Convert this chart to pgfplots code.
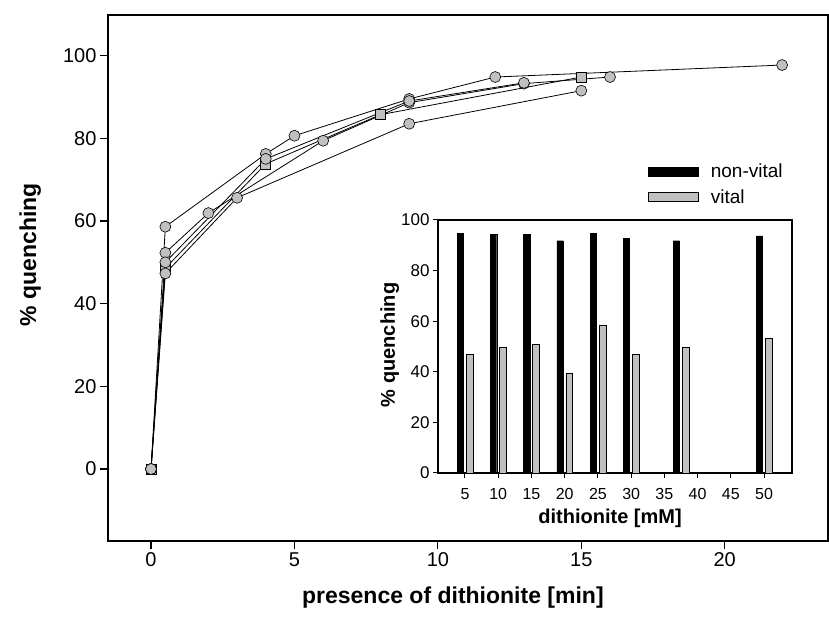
\documentclass[border=0pt]{standalone}
\usepackage{fontspec}
\setmainfont{Liberation Sans}
\usepackage{pgfplots}
\pgfplotsset{compat=1.18}
\definecolor{mgray}{RGB}{192,192,192}
\pgfplotsset{rectlegend/.style={legend image code/.code={\draw[##1] (0pt,-4.5pt) rectangle (50pt,4.5pt);}}}
\begin{document}
\begin{tikzpicture}[x=1pt,y=1pt]
\useasboundingbox (0,0) rectangle (829,626);
\begin{axis}[
  at={(108pt,85pt)}, anchor=south west, scale only axis,
  width=720pt, height=526pt,
  xmin=-1.5, xmax=23.6, ymin=-17.4, ymax=109.8,
  xtick={0,5,10,15,20}, ytick={0,20,40,60,80,100},
  tick align=outside, xtick pos=bottom, ytick pos=left,
  major tick length=8pt,
  axis line style={line width=1.3pt},
  tick style={line width=1.2pt, black},
  /pgf/number format/assume math mode=true,
  ticklabel style={font=\fontsize{20}{24}\selectfont},
  xlabel={presence of dithionite [min]}, ylabel={\% quenching},
  label style={font=\bfseries\fontsize{23}{27}\selectfont},
  xlabel style={at={(axis description cs:0.479,-0.108)}, anchor=center},
  ylabel style={at={(axis description cs:-0.108,0.544)}, anchor=center},
  every axis plot/.append style={line width=0.8pt, black, mark size=5.5pt,
    mark options={fill=mgray, draw=black, line width=0.6pt, solid}},
]
\addplot[mark=square*, mark size=5pt] coordinates {(0,0) (0.5,48.6) (4,73.8) (8,85.7) (15,94.8)};
\addplot[mark=*] coordinates {(0,0) (0.5,58.6) (4,76.2) (5,80.6) (9,89.5) (12,94.8) (22,97.7)};
\addplot[mark=*] coordinates {(0,0) (0.5,52.3) (2,61.9) (6,79.4) (9,88.6) (13,93.2) (16,94.8)};
\addplot[mark=*] coordinates {(0,0) (0.5,50.0) (4,75.0) (9,89.0) (13,93.4)};
\addplot[mark=*] coordinates {(0,0) (0.5,47.3) (3,65.6) (9,83.5) (15,91.5)};
\end{axis}
\begin{axis}[
  at={(438pt,153pt)}, anchor=south west, scale only axis,
  width=354pt, height=253pt,
  xmin=0.94, xmax=54.2, ymin=0, ymax=100,
  xtick={5,10,15,20,25,30,35,40,45,50}, ytick={0,20,40,60,80,100},
  tick align=outside, xtick pos=bottom, ytick pos=left,
  major tick length=5pt,
  axis line style={line width=1.1pt},
  tick style={line width=1pt, black},
  /pgf/number format/assume math mode=true,
  yticklabel style={font=\fontsize{17}{20}\selectfont},
  xticklabel style={font=\fontsize{16}{19}\selectfont, yshift=-7pt},
  xlabel={dithionite [mM]}, ylabel={\% quenching},
  label style={font=\bfseries\fontsize{20}{24}\selectfont},
  xlabel style={at={(axis description cs:0.486,-0.18)}, anchor=center},
  ylabel style={at={(axis description cs:-0.136,0.506)}, anchor=center},
  legend style={at={(axis description cs:0.593,1.23)}, anchor=north west,
    draw=none, fill=none, font=\fontsize{19}{22}\selectfont,
    row sep=6pt, column sep=10pt, inner sep=0pt},
  legend cell align=left,
]
\addplot[ybar, bar width=0.95, bar shift=-0.7, fill=black, draw=black, rectlegend]
  coordinates {(5,94.7) (10,94.2) (15,94.2) (20,91.8) (25,94.7) (30,92.7) (37.5,91.8) (50,93.7)};
\addlegendentry{non-vital}
\addplot[ybar, bar width=1.05, bar shift=0.7, fill=mgray, draw=black, line width=0.7pt, rectlegend]
  coordinates {(5,46.8) (10,49.5) (15,50.8) (20,39.3) (25,58.2) (30,46.8) (37.5,49.5) (50,53.2)};
\addlegendentry{vital}
\end{axis}
\end{tikzpicture}
\end{document}
